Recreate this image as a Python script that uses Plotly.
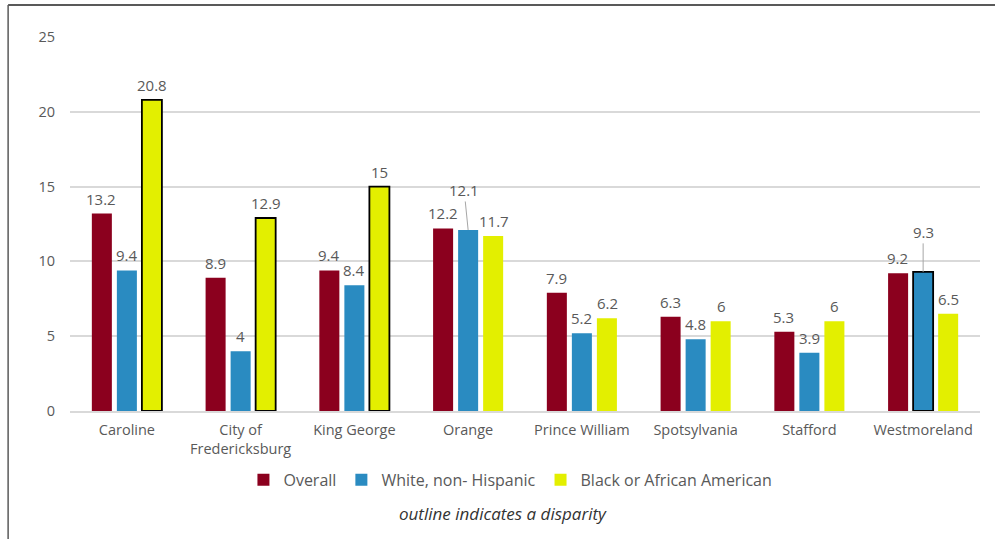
import plotly.graph_objects as go

# Jurisdictions and rates per group
categories = ["Caroline", "City of<br>Fredericksburg", "King George", "Orange",
              "Prince William", "Spotsylvania", "Stafford", "Westmoreland"]
overall = [13.2, 8.9, 9.4, 12.2, 7.9, 6.3, 5.3, 9.2]
white_nh = [9.4, 4, 8.4, 12.1, 5.2, 4.8, 3.9, 9.3]
black_aa = [20.8, 12.9, 15, 11.7, 6.2, 6, 6, 6.5]

# Which bars carry a disparity outline
white_disparity = [False, False, False, False, False, False, False, True]
black_disparity = [True, True, True, False, False, False, False, False]

# Labels drawn with a leader line: (series index, category index) -> (ax, ay)
leader_labels = {(1, 3): (-4, -40), (1, 7): (0, -40)}

y_ticks = [0, 5, 10, 15, 20, 25]

RED = "#8B001E"
BLUE = "#2A8BC1"
YELLOW = "#E3EF00"
TEXT = "#595959"
FONT = "Open Sans"

series = [
    ("Overall", overall, RED, [False] * len(overall)),
    ("White, non- Hispanic", white_nh, BLUE, white_disparity),
    ("Black or African American", black_aa, YELLOW, black_disparity),
]

fig = go.Figure()
for name, vals, color, outline in series:
    fig.add_trace(go.Bar(
        name=name,
        x=categories,
        y=vals,
        showlegend=False,
        marker=dict(
            color=color,
            line=dict(color=["#000000" if o else color for o in outline],
                      width=[1.8 if o else 0 for o in outline]),
        ),
        hoverinfo="x+y+name",
    ))

# Plain legend swatches, kept on hidden overlay axes so they do not
# take slots in the bar groups
for name, vals, color, outline in series:
    fig.add_trace(go.Bar(
        name=name, x=[categories[0]], y=[None],
        xaxis="x2", yaxis="y2",
        marker=dict(color=color, line=dict(width=0)),
        showlegend=True, hoverinfo="skip",
    ))

# Value labels above bars, positioned from the same values
offsets = [-25.5, 0, 25.5]
label_font = dict(family=FONT, size=15, color=TEXT)
annotations = []
for si, (name, vals, color, outline) in enumerate(series):
    for ci, v in enumerate(vals):
        label = f"{v:g}"
        if (si, ci) in leader_labels:
            ax, ay = leader_labels[(si, ci)]
            annotations.append(dict(
                x=categories[ci], y=v, xref="x", yref="y", text=label,
                showarrow=True, arrowhead=0, arrowwidth=1, arrowcolor="#A6A6A6",
                ax=ax, ay=ay, xshift=offsets[si], standoff=0,
                font=label_font,
            ))
        else:
            annotations.append(dict(
                x=categories[ci], y=v, xref="x", yref="y", text=label,
                showarrow=False, xshift=offsets[si], yshift=15,
                yanchor="middle", font=label_font,
            ))

annotations.append(dict(
    x=0.476, y=-0.273, xref="paper", yref="paper",
    text="<i>outline indicates a disparity</i>", showarrow=False,
    xanchor="center", yanchor="middle",
    font=dict(family=FONT, size=17, color="#333333"),
))

# Frame lines along the top and left edge
frame = [
    dict(type="line", xref="paper", yref="paper", x0=-0.068, x1=1.02,
         y0=1.0856, y1=1.0856, line=dict(color="#595959", width=2)),
    dict(type="line", xref="paper", yref="paper", x0=-0.068, x1=-0.068,
         y0=1.0856, y1=-0.35, line=dict(color="#595959", width=1.5)),
]

fig.update_layout(
    width=995, height=539,
    margin=dict(l=70, r=15, t=37, b=128),
    paper_bgcolor="white", plot_bgcolor="white",
    barmode="group", bargap=0.34, bargroupgap=0.2,
    font=dict(family=FONT, size=13, color=TEXT),
    showlegend=True,
    legend=dict(orientation="h", x=0.484, y=-0.184, xanchor="center",
                yanchor="middle", font=dict(family=FONT, size=16, color=TEXT),
                itemwidth=30, traceorder="normal"),
    annotations=annotations,
    shapes=frame,
    xaxis=dict(showgrid=False, showline=True, linecolor="#D9D9D9", linewidth=1.5,
               ticks="", ticklabelstandoff=5,
               tickfont=dict(family=FONT, size=14.5, color=TEXT),
               fixedrange=True),
    yaxis=dict(range=[0, 25], tickvals=y_ticks, showgrid=True,
               gridcolor="#D9D9D9", gridwidth=1.5, zeroline=False,
               showline=False, ticks="", ticklabelstandoff=14,
               tickfont=dict(family=FONT, size=14.5, color=TEXT),
               fixedrange=True),
    xaxis2=dict(overlaying="x", visible=False, matches="x", fixedrange=True),
    yaxis2=dict(overlaying="y", visible=False, range=[0, 25], fixedrange=True),
)

fig.write_html("out.html")
